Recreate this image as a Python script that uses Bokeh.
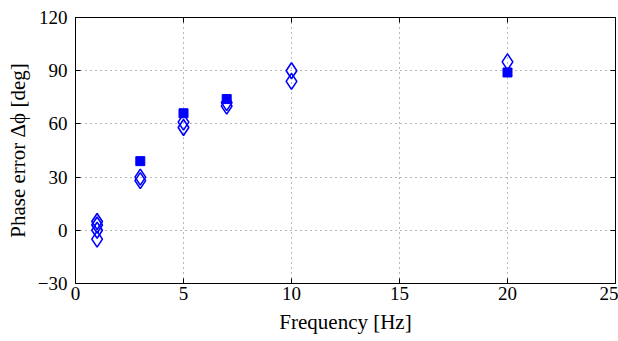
from bokeh.plotting import figure
from bokeh.models import Range1d, FixedTicker, LinearAxis
from bokeh.embed import file_html
from bokeh.resources import INLINE

# data
sq_freq = [3, 5, 7, 20]
sq_phase = [39, 66, 74, 89]
dm_freq = [1, 1, 1, 1, 3, 3, 5, 5, 7, 7, 10, 10, 20]
dm_phase = [5, 3, 0, -5, 30, 28, 61, 58, 72, 70, 90, 84, 95]
x_ticks = [0, 5, 10, 15, 20, 25]
y_ticks = [-30, 0, 30, 60, 90, 120]

FONT = "'Liberation Serif', 'Times New Roman', 'DejaVu Serif', serif"
BLUE = "#0000ff"

p = figure(width=618, height=341, output_backend="svg", toolbar_location=None,
           x_range=Range1d(0, 25), y_range=Range1d(-30, 120),
           min_border_left=75, min_border_right=3, min_border_top=17, min_border_bottom=58)
p.outline_line_color = "black"
p.outline_line_width = 1

p.scatter(sq_freq, sq_phase, marker="square", size=9, fill_color=BLUE, line_color=BLUE)
p.scatter(dm_freq, dm_phase, marker="diamond", size=16, fill_color=None, line_color=BLUE, line_width=1.6)

for ax in (p.xaxis[0], p.yaxis[0]):
    ax.major_label_text_font = FONT
    ax.major_label_text_font_size = "19px"
    ax.major_label_text_color = "black"
    ax.axis_label_text_font = FONT
    ax.axis_label_text_font_size = "21px"
    ax.axis_label_text_font_style = "normal"
    ax.axis_label_text_color = "black"
    ax.axis_line_color = "black"
    ax.major_tick_in = 5
    ax.major_tick_out = 0
    ax.minor_tick_line_color = None
    ax.major_tick_line_color = "black"

p.xaxis[0].ticker = FixedTicker(ticks=x_ticks)
p.yaxis[0].ticker = FixedTicker(ticks=y_ticks)
p.yaxis[0].major_label_overrides = {-30: "\u221230"}
p.xaxis[0].axis_label = "Frequency [Hz]"
p.yaxis[0].axis_label = "Phase error \u0394\u03d5 [deg]"
p.xaxis[0].major_label_standoff = 3
p.yaxis[0].major_label_standoff = 8
p.yaxis[0].axis_label_standoff = 5
p.xaxis[0].axis_label_standoff = 7

# mirrored axes (ticks only)
top = LinearAxis(ticker=FixedTicker(ticks=x_ticks), major_label_text_font_size="0px",
                 major_tick_in=5, major_tick_out=0, minor_tick_line_color=None,
                 axis_line_color="black")
right = LinearAxis(ticker=FixedTicker(ticks=y_ticks), major_label_text_font_size="0px",
                   major_tick_in=5, major_tick_out=0, minor_tick_line_color=None,
                   axis_line_color="black")
top.major_label_text_color = None
right.major_label_text_color = None
top.major_label_standoff = 0
right.major_label_standoff = 0
p.add_layout(top, "above")
p.add_layout(right, "right")

p.xgrid.ticker = FixedTicker(ticks=x_ticks)
p.ygrid.ticker = FixedTicker(ticks=y_ticks)
for g in (p.xgrid[0], p.ygrid[0]):
    g.grid_line_color = "#707070"
    g.grid_line_dash = "1 4"
    g.grid_line_width = 1

open("out.html", "w").write(file_html(p, INLINE))
